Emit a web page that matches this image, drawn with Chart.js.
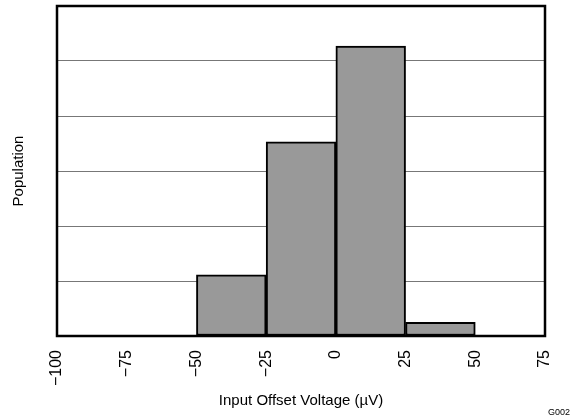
<!DOCTYPE html>
<html>
<head>
<meta charset="utf-8">
<script src="https://cdn.jsdelivr.net/npm/chart.js@4"></script>
<style>
  html, body { margin: 0; padding: 0; background: #fff; }
  #wrap { width: 574px; height: 418px; }
</style>
</head>
<body>
<div id="wrap"><canvas id="histChart"></canvas></div>
<script>
// bin centres (uV) and population per bin (arbitrary units)
const binCenters = [-37.5, -12.5, 12.5, 37.5];
const population = [1.11, 3.53, 5.27, 0.25];
const xTicks = [-100, -75, -50, -25, 0, 25, 50, 75];

const frame = {
    id: "frame",
    afterDraw(chart) {
        const { ctx, chartArea: a } = chart;
        ctx.save();
        ctx.strokeStyle = "#000";
        ctx.lineWidth = 2.5;
        ctx.strokeRect(a.left, a.top, a.right - a.left, a.bottom - a.top);
        ctx.fillStyle = "#000";
        ctx.font = "9px 'Liberation Sans', Arial, sans-serif";
        ctx.textAlign = "right";
        ctx.textBaseline = "alphabetic";
        ctx.fillText("G002", 570, 415);
        ctx.restore();
    }
};

new Chart(document.getElementById("histChart"), {
    type: "bar",
    data: {
        datasets: [{
            label: "Population",
            data: binCenters.map((x, i) => ({ x: x, y: population[i] })),
            backgroundColor: "#999999",
            borderColor: "#000",
            borderWidth: 2,
            borderSkipped: false,
            barPercentage: 1,
            categoryPercentage: 1
        }]
    },
    options: {
        responsive: true,
        maintainAspectRatio: false,
        animation: false,
        layout: { padding: { top: 6, right: 29, left: 0, bottom: 0 } },
        scales: {
            x: {
                type: "linear",
                min: -100,
                max: 75,
                offset: false,
                afterBuildTicks: (s) => { s.ticks = xTicks.map(v => ({ value: v })); },
                afterFit: (s) => { s.height = 82; s.paddingLeft = 0; s.paddingRight = 0; },
                grid: { display: false, drawTicks: false, offset: false },
                border: { display: false },
                ticks: {
                    minRotation: 90,
                    maxRotation: 90,
                    padding: 14,
                    color: "#000",
                    font: { family: "'Liberation Sans', Arial, sans-serif", size: 16 },
                    callback: (v) => String(v).replace("-", "\u2212")
                },
                title: {
                    display: true,
                    text: "Input Offset Voltage (\u00b5V)",
                    color: "#000",
                    font: { family: "'Liberation Sans', Arial, sans-serif", size: 15 },
                    padding: { top: 0, bottom: 8 }
                }
            },
            y: {
                min: 0,
                max: 6,
                afterFit: (s) => { s.width = 57; },
                grid: { color: "#777", lineWidth: 1, drawTicks: false },
                border: { display: false },
                ticks: { display: false, stepSize: 1 },
                title: {
                    display: true,
                    text: "Population",
                    color: "#000",
                    font: { family: "'Liberation Sans', Arial, sans-serif", size: 15 },
                    padding: { top: 10, bottom: 0 }
                }
            }
        },
        plugins: {
            legend: { display: false },
            tooltip: { enabled: false }
        }
    },
    plugins: [frame]
});
</script>
</body>
</html>
